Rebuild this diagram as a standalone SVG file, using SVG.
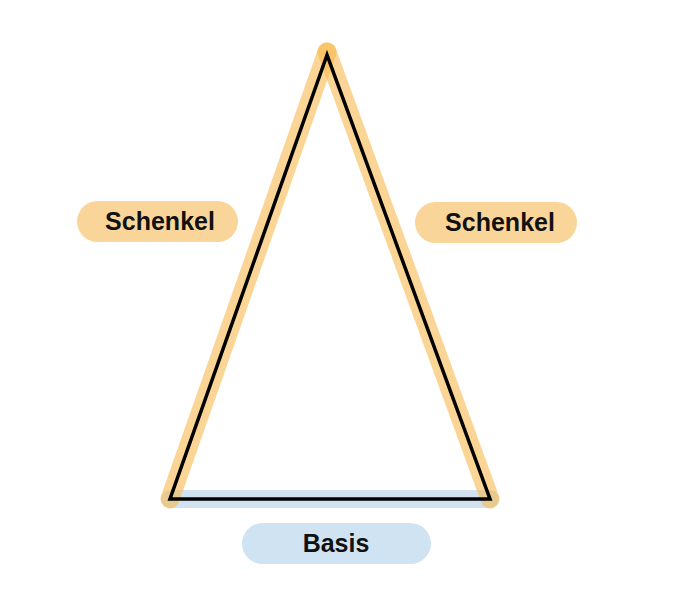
<svg xmlns="http://www.w3.org/2000/svg" width="680" height="599" viewBox="0 0 680 599">
<style>
.leg{stroke:#F8B94F;stroke-opacity:0.6;stroke-width:19;stroke-linecap:round;fill:none}
.base{stroke:#A9CBE8;stroke-opacity:0.55;stroke-width:18;stroke-linecap:round;fill:none}
.tri{stroke:#000;stroke-width:3.5;fill:none;stroke-linejoin:miter}
.pillO{fill:#FAD59A}
.pillB{fill:#D0E3F3}
.lbl{font-family:"Liberation Sans",Arial,sans-serif;font-weight:bold;font-size:25px;fill:#111;text-anchor:middle}
</style>
<rect width="680" height="599" fill="#fff"/>
<g id="connectors">
<line class="base" x1="170" y1="499" x2="490" y2="499"/>
<line class="leg" x1="327" y1="52" x2="170" y2="499"/>
<line class="leg" x1="327" y1="52" x2="490" y2="499"/>
<polygon class="tri" points="327,55 170,499 490,499"/>
</g>
<g id="schenkel-left">
<rect class="pillO" x="77" y="201" width="161" height="41" rx="20.5"/>
<text class="lbl" x="160" y="230">Schenkel</text>
</g>
<g id="schenkel-right">
<rect class="pillO" x="415" y="202" width="162" height="41" rx="20.5"/>
<text class="lbl" x="500" y="231">Schenkel</text>
</g>
<g id="basis">
<rect class="pillB" x="242" y="523" width="189" height="41" rx="20.5"/>
<text class="lbl" x="336" y="552">Basis</text>
</g>
</svg>
